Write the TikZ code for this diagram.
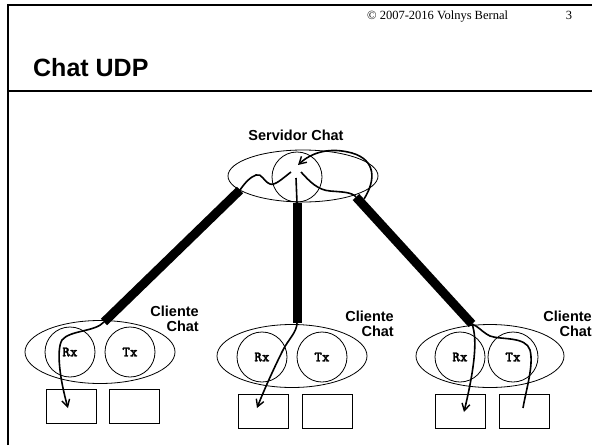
\documentclass[tikz,border=0pt]{standalone}
\usepackage{fontspec}
\setmainfont{Liberation Serif}
\newfontfamily\hel{Liberation Sans}
\newfontfamily\cour[FakeBold=1.6]{lmmonolt10-bold.otf}
\usetikzlibrary{arrows.meta,shapes.geometric}
\begin{document}
\begin{tikzpicture}[x=1pt,y=-1pt,
  thinl/.style={line width=0.8pt},
  pipe/.style={line width=9pt,line cap=butt},
  flow/.style={line width=1.6pt},
  flowa/.style={line width=1.6pt,-{Straight Barb[length=7pt,width=8pt,line width=1.4pt]}},
  lbl/.style={font=\hel\fontsize{14.5}{15}\selectfont\bfseries,align=right,inner sep=0pt},
  port/.style={circle,draw,thinl,minimum size=50pt,inner sep=0pt,font=\cour\fontsize{14.5}{15}\selectfont},
  buf/.style={rectangle,draw,thinl,minimum width=50pt,minimum height=34pt,inner sep=0pt}]
\useasboundingbox (0,0) rectangle (592,445);
\fill[white] (0,0) rectangle (592,445);
% frame
\draw[line width=2pt] (8,445) -- (8,5) -- (592,5);
\draw[line width=2pt] (8,91) -- (592,91);
\node[anchor=base west,inner sep=0pt,font=\fontsize{12.5}{13}\selectfont] (hdr) at (367,19) {\textcopyright\ 2007-2016 Volnys Bernal};
\node[anchor=base,inner sep=0pt,font=\fontsize{12.5}{13}\selectfont] (pg) at (569,19) {3};
\node[anchor=base west,inner sep=0pt,font=\hel\fontsize{25}{26}\selectfont\bfseries] (title) at (33,76) {Chat UDP};
% server
\node[lbl,anchor=center] (srvl) at (296,135) {Servidor Chat};
\node[ellipse,draw,thinl,minimum width=150pt,minimum height=52pt,inner sep=0pt] (srv) at (303,176) {};
\node[circle,draw,thinl,minimum size=50pt,inner sep=0pt] (core) at (297,177) {};
% clients
\node[ellipse,draw,thinl,minimum width=150pt,minimum height=63pt,inner sep=0pt] (c1) at (100,352) {};
\node[port] (rx1) at (70,352) {Rx};
\node[port] (tx1) at (130,352) {Tx};
\node[buf] (b1a) at (71,406) {};
\node[buf] (b1b) at (134,406) {};
\node[lbl,anchor=north east] (l1) at (199,306) {Cliente\\Chat};

\node[ellipse,draw,thinl,minimum width=150pt,minimum height=63pt,inner sep=0pt] (c2) at (292,356) {};
\node[port] (rx2) at (262,357) {Rx};
\node[port] (tx2) at (322,357) {Tx};
\node[buf] (b2a) at (263,411) {};
\node[buf] (b2b) at (327,411) {};
\node[lbl,anchor=north east] (l2) at (394,311) {Cliente\\Chat};

\node[ellipse,draw,thinl,minimum width=148pt,minimum height=63pt,inner sep=0pt] (c3) at (490,356) {};
\node[port] (rx3) at (460,357) {Rx};
\node[port] (tx3) at (513,357) {Tx};
\node[buf] (b3a) at (460,411) {};
\node[buf] (b3b) at (524,411) {};
\node[lbl,anchor=north east] (l3) at (592,311) {Cliente\\Chat};

% pipes
\coordinate (p1a) at (240,190);
\coordinate (p1b) at (104,322);
\coordinate (p2a) at (297,203);
\coordinate (p2b) at (297,323);
\coordinate (p3a) at (356,197);
\coordinate (p3b) at (472,324);
\draw[pipe] (p1a) -- (p1b);
\draw[pipe] (p2a) -- (p2b);
\draw[pipe] (p3a) -- (p3b);

% server flows
\coordinate (s1) at (291,172);
\coordinate (s2) at (296,178);
\coordinate (s3) at (301,172);
\coordinate (sin) at (298,165);
\draw[flow] (s1) .. controls (283,178) and (275,186) .. (270,184)
  .. controls (263,181) and (262,173) .. (256,175)
  .. controls (250,177) and (244,184) .. (p1a);
\draw[flow] (s2) -- (p2a);
\draw[flow] (s3) .. controls (310,182) and (318,190) .. (330,191)
  .. controls (342,192) and (352,192) .. (p3a);
\draw[flowa] (364,199) .. controls (376,180) and (376,160) .. (352,153)
  .. controls (330,147) and (312,152) .. (sin);

% client flows
\coordinate (e1) at (68,408);
\draw[flowa] (p1b) .. controls (95,332) and (70,330) .. (62,340)
  .. controls (56,350) and (60,380) .. (e1);
\coordinate (e2) at (257,408);
\draw[flowa] (p2b) .. controls (297,332) and (288,340) .. (283,350)
  .. controls (274,368) and (264,390) .. (e2);
\coordinate (e3) at (464,412);
\draw[flowa] (p3b) .. controls (478,340) and (474,370) .. (e3);
\coordinate (e4) at (523,408);
\draw[flow] (e4) .. controls (526,390) and (534,365) .. (530,350)
  .. controls (526,336) and (500,340) .. (490,336)
  .. controls (482,332) and (478,326) .. (p3b);
\end{tikzpicture}
\end{document}
